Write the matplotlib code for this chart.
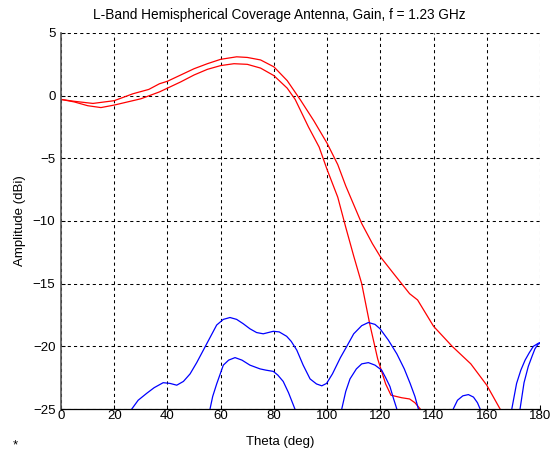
import matplotlib
matplotlib.use("Agg")
import matplotlib.pyplot as plt
import numpy as np

# co-pol gain, two cuts (red)
theta_red_a = [0, 5, 12, 20, 27, 33, 37, 40, 45, 50, 55, 60, 66, 70, 75, 80, 85, 90, 95, 100, 104,
               107, 110, 113, 117, 120, 125, 131, 134, 140, 147, 154, 160, 165, 167]
gain_red_a = [-0.3, -0.45, -0.62, -0.4, 0.15, 0.5, 0.95, 1.15, 1.65, 2.15, 2.55, 2.9, 3.1, 3.05, 2.85,
              2.3, 1.2, -0.35, -2.0, -3.8, -5.5, -7.2, -8.7, -10.2, -11.8, -12.85, -14.2, -15.8,
              -16.3, -18.4, -20.0, -21.4, -23.1, -25.0, -26.0]

theta_red_b = [0, 5, 10, 15, 20, 25, 30, 37, 45, 50, 55, 60, 65, 70, 75, 80, 85, 88, 93, 97, 100,
               104, 107, 110, 113, 116, 119, 122, 124, 128, 131, 133, 135, 137]
gain_red_b = [-0.3, -0.5, -0.8, -0.95, -0.75, -0.5, -0.25, 0.3, 1.1, 1.65, 2.1, 2.4, 2.55, 2.5, 2.2,
              1.6, 0.6, -0.3, -2.5, -4.1, -5.9, -8.1, -10.5, -12.8, -15.0, -18.2, -21.0, -23.0,
              -23.9, -24.1, -24.2, -24.5, -25.0, -26.0]

# cross-pol gain (blue)
theta_blue_a = [24, 26.6, 29, 32.2, 35, 38.4, 41, 43.5, 46, 48.5, 51, 53.5, 56, 58.5, 61, 63.5, 66,
                68.5, 71, 73.5, 76, 79.8, 82, 84.8, 86.5, 88.6, 91, 93.6, 96, 98, 99.8, 102, 105,
                107.4, 110, 113, 115.5, 118, 119.9, 123, 126.2, 129, 131.2, 133, 134.3, 136, 146,
                147.4, 149, 151, 153.1, 155, 156.5, 157.5, 159, 168, 169.4, 171.2, 172.8, 174.4,
                176, 177.5, 179.4, 180]
gain_blue_a = [-26.5, -25.0, -24.3, -23.75, -23.3, -22.9, -22.96, -23.1, -22.8, -22.2, -21.3, -20.3,
               -19.3, -18.3, -17.85, -17.7, -17.85, -18.2, -18.6, -18.9, -19.0, -18.8, -18.85,
               -19.2, -19.6, -20.3, -21.5, -22.6, -23.0, -23.15, -22.96, -22.2, -20.9, -20.0,
               -19.0, -18.35, -18.1, -18.25, -18.6, -19.5, -20.6, -21.8, -22.96, -24.0, -25.0,
               -26.5, -26.5, -25.0, -24.3, -23.95, -23.85, -24.05, -24.5, -25.0, -26.5, -26.5,
               -25.0, -22.96, -21.9, -21.1, -20.5, -20.0, -19.75, -19.7]

theta_blue_b = [55, 56, 57, 58.5, 60, 61, 63, 65.4, 68, 71, 74.8, 77, 79.8, 81.5, 83.5, 85.5, 87.9,
                89, 104, 105.5, 107, 108.6, 111, 113, 115.5, 118, 120.5, 122, 123.6, 125, 126.2,
                127, 171, 172.5, 174, 175.6, 177, 178.1, 179.2, 180]
gain_blue_b = [-27.0, -25.0, -24.0, -23.0, -22.1, -21.5, -21.1, -20.9, -21.1, -21.5, -21.8, -21.9,
               -22.0, -22.3, -22.8, -23.7, -25.0, -26.5, -26.5, -25.0, -23.6, -22.6, -21.8, -21.4,
               -21.3, -21.5, -21.9, -22.5, -23.2, -24.2, -25.0, -26.5, -26.5, -25.0, -22.9, -21.6,
               -20.8, -20.2, -19.85, -19.75]

x_ticks = [0, 20, 40, 60, 80, 100, 120, 140, 160, 180]
y_ticks = [-25, -20, -15, -10, -5, 0, 5]

plt.rcParams['font.family'] = ['Liberation Sans', 'DejaVu Sans']
plt.rcParams['font.size'] = 9.5

fig = plt.figure(figsize=(5.58, 4.53), dpi=100)
ax = fig.add_axes([61 / 558, 1 - 409 / 453, 479 / 558, 376 / 453])

lw = 0.9
ax.plot(theta_red_a, gain_red_a, color='#ff0000', lw=lw)
ax.plot(theta_red_b, gain_red_b, color='#ff0000', lw=lw)
ax.plot(theta_blue_a, gain_blue_a, color='#0000ff', lw=lw)
ax.plot(theta_blue_b, gain_blue_b, color='#0000ff', lw=lw)

ax.set_xlim(0, 180)
ax.set_ylim(-25, 5)
ax.set_xticks(x_ticks)
ax.set_yticks(y_ticks)
ax.grid(True, color='black', linestyle=(0, (3, 3)), linewidth=0.75)
ax.tick_params(direction='in', length=3, width=0.75, pad=1, labelsize=9.5)
ax.tick_params(axis='y', pad=4)
for side in ['top', 'right']:
    ax.spines[side].set_visible(False)
ax.spines['left'].set_color('#555555')
ax.spines['left'].set_linewidth(1.2)
ax.spines['bottom'].set_linewidth(0.9)

fig.text(0.5, 1 - 15 / 453, 'L-Band Hemispherical Coverage Antenna, Gain, f = 1.23 GHz',
         ha='center', va='center', fontsize=9.8)
fig.text(280 / 558, 1 - 442 / 453, 'Theta (deg)', ha='center', va='center', fontsize=9.5)
fig.text(20 / 558, 1 - 221 / 453, 'Amplitude (dBi)', ha='center', va='center',
         rotation=90, fontsize=9.5)
fig.text(15 / 558, 1 - 445 / 453, '*', ha='center', va='center', fontsize=9.5)

fig.savefig('out.png', dpi=100)
